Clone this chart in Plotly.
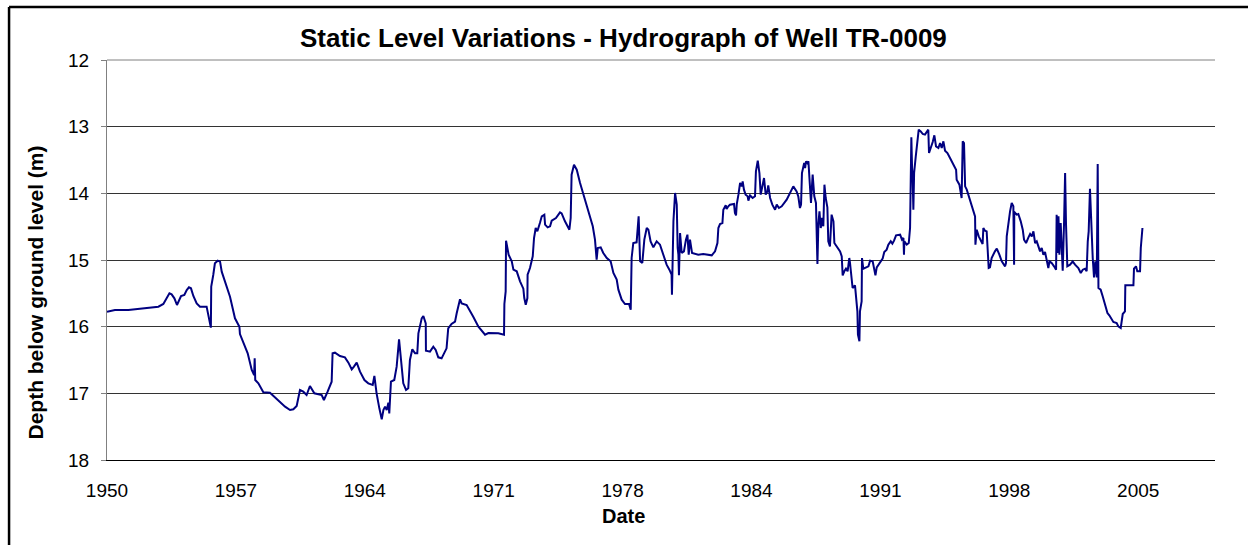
import plotly.graph_objects as go

# ---- data: well TR-0009 static level (decimal year, depth below ground level in m) ----
year_1950_1970 = [1950.00, 1950.43, 1951.16, 1951.70, 1952.24, 1952.79, 1953.06, 1953.24, 1953.39, 1953.51,
                  1953.66, 1953.80, 1953.91, 1954.02, 1954.20, 1954.33, 1954.45, 1954.56, 1954.69, 1954.87,
                  1955.05, 1955.41, 1955.64, 1955.66, 1955.77, 1955.86, 1956.01, 1956.14, 1956.23, 1956.41,
                  1956.68, 1956.95, 1957.19, 1957.22, 1957.46, 1957.64, 1957.86, 1957.99, 1958.02, 1958.05,
                  1958.22, 1958.49, 1958.85, 1959.30, 1959.67, 1959.94, 1960.12, 1960.30, 1960.39, 1960.48,
                  1960.66, 1960.84, 1961.02, 1961.26, 1961.66, 1961.78, 1961.98, 1962.20, 1962.25, 1962.38,
                  1962.65, 1962.92, 1963.11, 1963.29, 1963.41, 1963.56, 1963.74, 1963.98, 1964.19, 1964.43,
                  1964.52, 1964.64, 1964.79, 1964.92, 1965.01, 1965.10, 1965.19, 1965.28, 1965.33, 1965.42,
                  1965.60, 1965.73, 1965.86, 1965.97, 1966.09, 1966.24, 1966.36, 1966.45, 1966.58, 1966.73,
                  1966.85, 1966.91, 1967.09, 1967.18, 1967.31, 1967.32, 1967.54, 1967.72, 1967.85, 1967.99,
                  1968.17, 1968.44, 1968.53, 1968.71, 1968.90, 1968.99, 1969.17, 1969.26, 1969.53, 1969.89,
                  1970.17]
depth_1950_1970 = [15.775, 15.75, 15.75, 15.735, 15.71, 15.70, 15.66, 15.56, 15.50, 15.515,
                   15.575, 15.675, 15.61, 15.54, 15.525, 15.45, 15.41, 15.425, 15.54, 15.65,
                   15.70, 15.70, 16.015, 15.40, 15.225, 15.05, 15.01, 15.025, 15.175, 15.325,
                   15.55, 15.875, 16.0, 16.11, 16.275, 16.40, 16.65, 16.725, 16.475, 16.80,
                   16.85, 16.985, 16.99, 17.10, 17.20, 17.25, 17.24, 17.19, 17.075, 16.95,
                   16.975, 17.025, 16.89, 17.0, 17.025, 17.10, 16.975, 16.825, 16.40, 16.39,
                   16.44, 16.46, 16.54, 16.64, 16.60, 16.54, 16.675, 16.80, 16.85, 16.875,
                   16.74, 17.0, 17.225, 17.39, 17.25, 17.20, 17.25, 17.14, 17.30, 16.825,
                   16.80, 16.60, 16.19, 16.50, 16.85, 16.95, 16.925, 16.50, 16.34, 16.40,
                   16.40, 16.10, 15.875, 15.84, 15.95, 16.36, 16.375, 16.30, 16.35, 16.46,
                   16.475, 16.325, 16.025, 15.96, 15.925, 15.80, 15.59, 15.65, 15.675, 15.85,
                   16.0]

year_1970_1990 = [1970.53, 1970.71, 1971.25, 1971.56, 1971.58, 1971.65, 1971.67, 1971.74, 1971.81, 1971.98,
                  1972.07, 1972.25, 1972.43, 1972.61, 1972.66, 1972.74, 1972.83, 1972.84, 1972.97, 1973.12,
                  1973.19, 1973.28, 1973.37, 1973.51, 1973.61, 1973.75, 1973.79, 1973.93, 1974.06, 1974.15,
                  1974.38, 1974.60, 1974.69, 1974.87, 1975.00, 1975.11, 1975.18, 1975.23, 1975.36, 1975.51,
                  1975.69, 1975.87, 1976.05, 1976.23, 1976.38, 1976.50, 1976.59, 1976.65, 1976.81, 1976.95,
                  1977.14, 1977.35, 1977.50, 1977.68, 1977.77, 1977.95, 1978.13, 1978.35, 1978.44, 1978.49,
                  1978.58, 1978.76, 1978.87, 1978.95, 1979.07, 1979.18, 1979.31, 1979.40, 1979.52, 1979.67,
                  1979.85, 1980.03, 1980.21, 1980.39, 1980.54, 1980.66, 1980.68, 1980.76, 1980.85, 1980.94,
                  1980.99, 1981.03, 1981.06, 1981.12, 1981.21, 1981.33, 1981.44, 1981.52, 1981.59, 1981.66,
                  1981.77, 1982.11, 1982.38, 1982.84, 1983.02, 1983.15, 1983.20, 1983.29, 1983.42, 1983.47,
                  1983.60, 1983.65, 1983.74, 1983.83, 1984.05, 1984.10, 1984.16, 1984.20, 1984.29, 1984.38,
                  1984.47, 1984.52, 1984.59, 1984.68, 1984.79, 1984.83, 1984.92, 1985.06, 1985.19, 1985.24,
                  1985.34, 1985.43, 1985.50, 1985.61, 1985.68, 1985.77, 1985.86, 1985.91, 1986.01, 1986.13,
                  1986.28, 1986.37, 1986.49, 1986.64, 1986.91, 1987.27, 1987.45, 1987.54, 1987.63, 1987.69,
                  1987.74, 1987.86, 1987.91, 1987.96, 1988.03, 1988.09, 1988.18, 1988.23, 1988.32, 1988.41,
                  1988.50, 1988.58, 1988.63, 1988.69, 1988.76, 1988.83, 1988.90, 1988.96, 1989.03, 1989.12,
                  1989.17, 1989.26, 1989.35, 1989.45, 1989.50, 1989.63, 1989.81, 1989.90, 1989.95, 1990.04,
                  1990.13, 1990.22, 1990.31, 1990.35]
depth_1970_1990 = [16.12, 16.095, 16.10, 16.12, 15.66, 15.47, 14.71, 14.82, 14.92, 15.02,
                   15.145, 15.17, 15.32, 15.43, 15.57, 15.67, 15.57, 15.22, 15.12, 14.945,
                   14.67, 14.52, 14.57, 14.445, 14.345, 14.32, 14.47, 14.51, 14.495, 14.41,
                   14.37, 14.285, 14.30, 14.42, 14.48, 14.545, 14.37, 13.72, 13.57, 13.645,
                   13.845, 14.02, 14.195, 14.345, 14.495, 14.695, 14.995, 14.82, 14.81, 14.895,
                   14.97, 15.02, 15.195, 15.295, 15.445, 15.595, 15.66, 15.66, 15.745, 14.97,
                   14.745, 14.735, 14.345, 15.02, 15.045, 14.695, 14.52, 14.545, 14.72, 14.81,
                   14.72, 14.77, 14.92, 15.07, 15.145, 15.22, 15.52, 14.42, 13.995, 14.17,
                   14.82, 14.92, 15.23, 14.595, 14.895, 14.87, 14.695, 14.62, 14.92, 14.695,
                   14.895, 14.92, 14.91, 14.93, 14.87, 14.745, 14.52, 14.46, 14.445, 14.245,
                   14.18, 14.235, 14.195, 14.17, 14.16, 14.295, 14.33, 14.16, 14.02, 13.845,
                   13.895, 13.82, 13.945, 14.02, 14.045, 14.11, 14.03, 14.07, 14.045, 13.67,
                   13.51, 13.695, 14.02, 13.895, 13.77, 14.02, 13.97, 13.88, 14.07, 14.17,
                   14.245, 14.17, 14.22, 14.195, 14.095, 13.895, 13.97, 14.045, 14.22, 14.17,
                   13.695, 13.545, 13.62, 13.52, 13.545, 13.52, 13.97, 14.145, 13.72, 14.045,
                   14.145, 15.06, 14.47, 14.27, 14.52, 14.37, 14.495, 13.87, 14.07, 14.21,
                   14.72, 14.795, 14.32, 14.42, 14.745, 14.795, 14.87, 14.945, 15.23, 15.17,
                   15.13, 15.17, 14.97, 15.045]

year_1990_2006 = [1990.44, 1990.49, 1990.62, 1990.68, 1990.75, 1990.78, 1990.86, 1990.89, 1990.98, 1991.00,
                  1991.07, 1991.35, 1991.44, 1991.58, 1991.65, 1991.73, 1991.80, 1991.98, 1992.12, 1992.21,
                  1992.34, 1992.43, 1992.56, 1992.65, 1992.74, 1992.85, 1993.07, 1993.17, 1993.25, 1993.28,
                  1993.30, 1993.43, 1993.54, 1993.61, 1993.64, 1993.68, 1993.72, 1993.75, 1993.79, 1993.83,
                  1993.92, 1993.97, 1994.02, 1994.08, 1994.19, 1994.30, 1994.42, 1994.55, 1994.60, 1994.64,
                  1994.75, 1994.84, 1994.93, 1995.02, 1995.15, 1995.24, 1995.33, 1995.42, 1995.51, 1995.64,
                  1995.78, 1995.96, 1996.11, 1996.14, 1996.29, 1996.41, 1996.47, 1996.54, 1996.60, 1996.69,
                  1996.78, 1996.90, 1997.05, 1997.14, 1997.16, 1997.23, 1997.34, 1997.45, 1997.55, 1997.59,
                  1997.68, 1997.77, 1997.83, 1997.88, 1997.95, 1998.04, 1998.22, 1998.32, 1998.46, 1998.59,
                  1998.77, 1998.82, 1998.86, 1998.95, 1999.04, 1999.13, 1999.22, 1999.26, 1999.27, 1999.40,
                  1999.49, 1999.62, 1999.73, 1999.80, 1999.91, 2000.04, 2000.13, 2000.22, 2000.31, 2000.40,
                  2000.49, 2000.58, 2000.67, 2000.76, 2000.85, 2000.94, 2001.03, 2001.12, 2001.18, 2001.30,
                  2001.43, 2001.54, 2001.57, 2001.61, 2001.67, 2001.72, 2001.79, 2001.85, 2001.90, 2001.97,
                  2002.03, 2002.08, 2002.15, 2002.30, 2002.44, 2002.57, 2002.75, 2002.88, 2002.99, 2003.11,
                  2003.20, 2003.26, 2003.31, 2003.38, 2003.46, 2003.53, 2003.60, 2003.67, 2003.75, 2003.80,
                  2003.84, 2003.96, 2004.07, 2004.20, 2004.33, 2004.43, 2004.51, 2004.65, 2004.83, 2004.92,
                  2005.05, 2005.16, 2005.28, 2005.30, 2005.74, 2005.77, 2005.88, 2005.95, 2006.10, 2006.14,
                  2006.23]
depth_1990_2006 = [15.27, 15.42, 15.38, 15.57, 15.77, 16.12, 16.22, 15.77, 15.62, 14.97,
                   15.13, 15.095, 15.01, 15.02, 15.13, 15.23, 15.11, 15.045, 14.98, 14.88,
                   14.845, 14.77, 14.72, 14.755, 14.71, 14.63, 14.62, 14.695, 14.67, 14.92,
                   14.72, 14.77, 14.745, 14.52, 13.745, 13.16, 13.62, 13.77, 14.245, 13.695,
                   13.445, 13.32, 13.17, 13.045, 13.07, 13.11, 13.12, 13.07, 13.045, 13.395,
                   13.32, 13.23, 13.13, 13.295, 13.32, 13.245, 13.32, 13.22, 13.36, 13.395,
                   13.47, 13.56, 13.645, 13.795, 13.87, 14.07, 13.22, 13.245, 13.895, 13.945,
                   14.02, 14.145, 14.27, 14.345, 14.77, 14.545, 14.645, 14.72, 14.76, 14.52,
                   14.56, 14.57, 14.82, 15.12, 15.11, 14.97, 14.87, 14.83, 14.92, 15.02,
                   15.095, 15.045, 14.645, 14.42, 14.27, 14.145, 14.195, 15.07, 14.28, 14.32,
                   14.31, 14.42, 14.545, 14.695, 14.745, 14.66, 14.61, 14.645, 14.57, 14.745,
                   14.72, 14.795, 14.87, 14.82, 14.92, 14.88, 15.02, 15.12, 15.02, 15.045,
                   15.095, 15.145, 14.32, 14.895, 14.345, 14.92, 14.445, 14.92, 15.16, 14.47,
                   13.695, 14.47, 15.095, 15.07, 15.02, 15.07, 15.12, 15.195, 15.145, 15.13,
                   15.17, 14.72, 14.57, 13.93, 14.57, 14.97, 15.26, 15.02, 15.26, 13.56,
                   15.42, 15.445, 15.545, 15.67, 15.795, 15.83, 15.87, 15.93, 15.945, 15.995,
                   16.02, 15.81, 15.77, 15.38, 15.38, 15.13, 15.095, 15.17, 15.17, 14.82,
                   14.52]

year = year_1950_1970 + year_1970_1990 + year_1990_2006
depth = depth_1950_1970 + depth_1970_1990 + depth_1990_2006

# x-axis ticks (Excel date axis, ~7-year major unit)
x_tick_pos = [1950, 1957, 1964, 1971, 1978, 1985, 1992, 1999, 2006]
x_tick_labels = ["1950", "1957", "1964", "1971", "1978", "1984", "1991", "1998", "2005"]
x_range = [1950, 2010.17]
y_range = [18, 12]

title_text = "Static Level Variations - Hydrograph of Well TR-0009"
x_title = "Date"
y_title = "Depth below ground level (m)"

FONT = "Liberation Sans, Arial, Helvetica, sans-serif"

fig = go.Figure()
fig.add_trace(go.Scatter(
    x=year, y=depth, mode="lines",
    line=dict(color="#000080", width=2),
    hoverinfo="skip", showlegend=False,
))

fig.update_layout(
    width=1248, height=545,
    margin=dict(l=107, r=33, t=60, b=85),
    paper_bgcolor="white", plot_bgcolor="white",
    font=dict(family=FONT, color="black"),
    showlegend=False,
)

fig.update_xaxes(
    range=x_range, tickmode="array", tickvals=x_tick_pos, ticktext=x_tick_labels,
    showgrid=False, zeroline=False,
    showline=True, linecolor="black", linewidth=1,
    ticks="", tickfont=dict(size=19, family=FONT, color="black"),
    ticklabelstandoff=13,
)
fig.update_yaxes(
    range=y_range, tickmode="linear", tick0=12, dtick=1,
    showgrid=True, gridcolor="#333333", gridwidth=1, zeroline=False,
    showline=True, linecolor="#808080", linewidth=1,
    ticks="outside", ticklen=5, tickcolor="#808080",
    tickfont=dict(size=19, family=FONT, color="black"),
    ticklabelstandoff=8,
)

# frame: top line of plot area, and outer chart border (top & left)
fig.add_shape(type="line", xref="paper", yref="paper", x0=0, x1=1, y0=1, y1=1,
              line=dict(color="#808080", width=1))
fig.add_shape(type="line", xref="paper", yref="paper", x0=-0.0884, x1=1.05, y0=1.1325, y1=1.1325,
              line=dict(color="black", width=2.5))
fig.add_shape(type="line", xref="paper", yref="paper", x0=-0.0884, x1=-0.0884, y0=-0.3, y1=1.1325,
              line=dict(color="black", width=2.5))

fig.add_annotation(text=f"<b>{title_text}</b>", xref="paper", yref="paper",
                   x=0.4666, y=1.055, xanchor="center", yanchor="middle", showarrow=False,
                   font=dict(size=26, family=FONT, color="black"))
fig.add_annotation(text=f"<b>{x_title}</b>", xref="paper", yref="paper",
                   x=0.4666, y=-0.1408, xanchor="center", yanchor="middle", showarrow=False,
                   font=dict(size=20, family=FONT, color="black"))
fig.add_annotation(text=f"<b>{y_title}</b>", xref="paper", yref="paper",
                   x=-0.0654, y=0.4175, xanchor="center", yanchor="middle", showarrow=False,
                   textangle=-90, font=dict(size=21, family=FONT, color="black"))

fig.write_html("out.html", config={"displayModeBar": False},
               post_script="document.body.style.margin='0px';")
